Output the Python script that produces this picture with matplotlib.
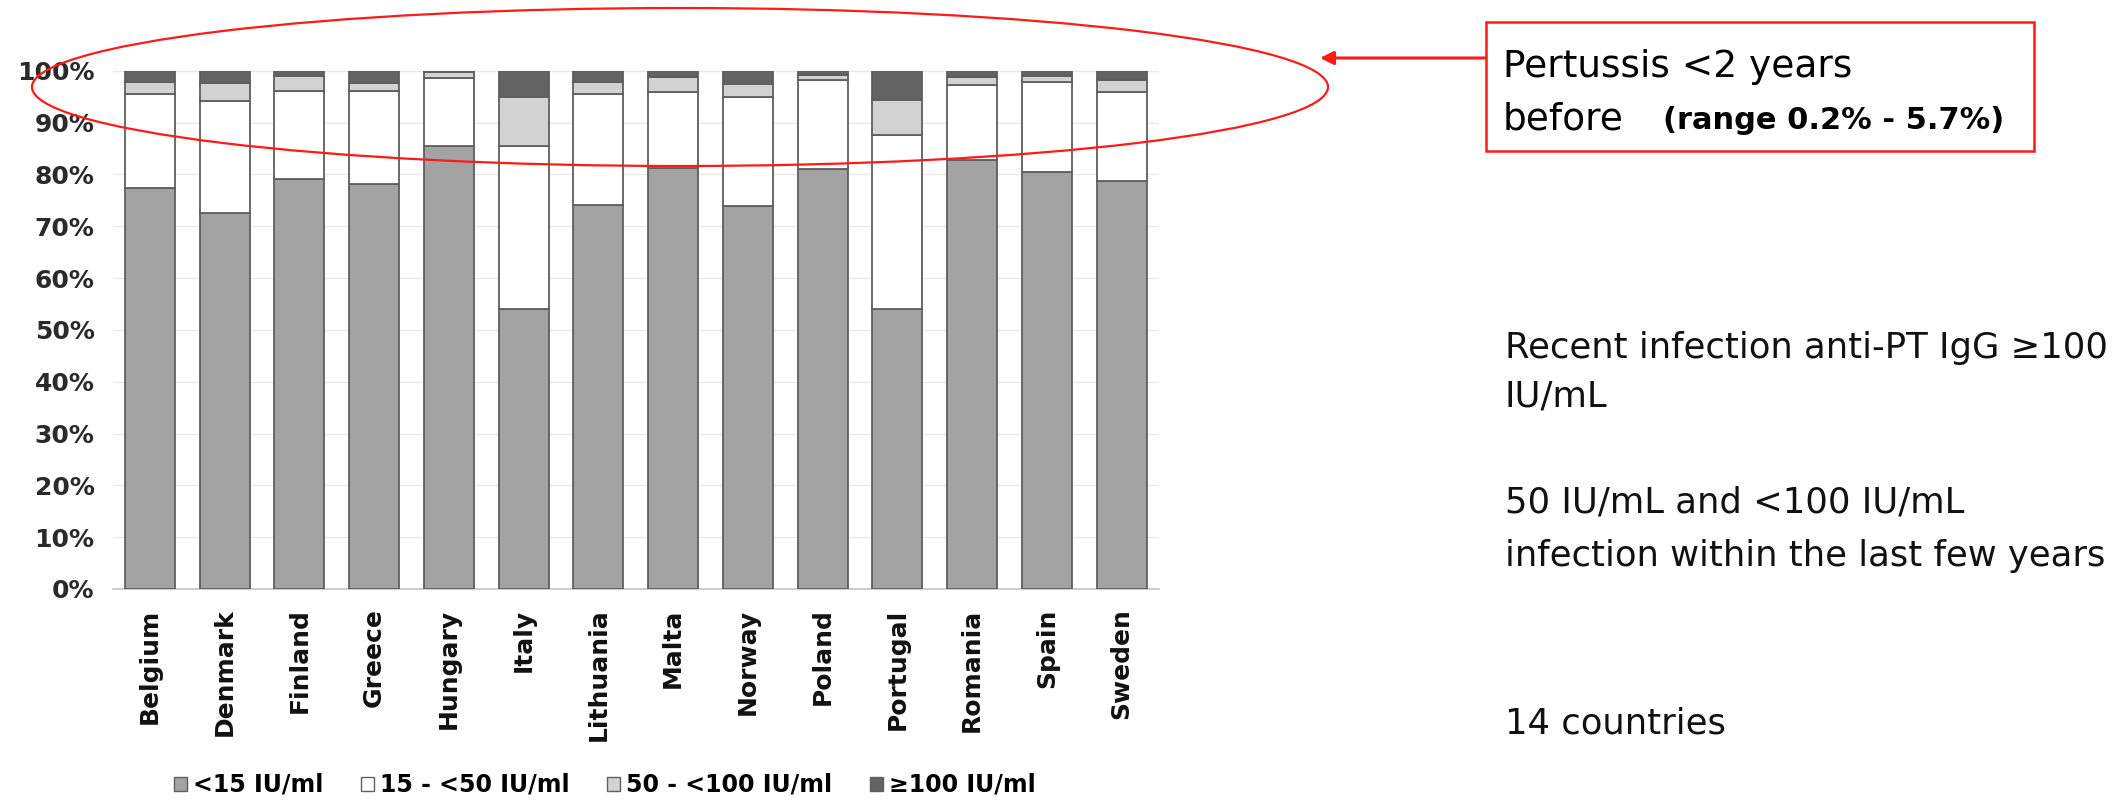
import numpy as np
import matplotlib
matplotlib.use("Agg")
import matplotlib.pyplot as plt
from matplotlib.patches import Ellipse, Rectangle, Patch, FancyArrowPatch

countries = ["Belgium", "Denmark", "Finland", "Greece", "Hungary", "Italy",
             "Lithuania", "Malta", "Norway", "Poland", "Portugal", "Romania",
             "Spain", "Sweden"]

# shares of anti-PT IgG levels per country (%)
lt15 = [77.4, 72.5, 79.2, 78.2, 85.4, 54.0, 74.0, 81.3, 73.8, 81.0, 54.0, 82.8, 80.4, 78.8]
r15_50 = [18.2, 21.6, 16.8, 17.8, 13.1, 31.5, 21.6, 14.6, 21.2, 17.3, 33.6, 14.5, 17.4, 17.1]
r50_100 = [2.3, 3.5, 3.0, 1.6, 1.2, 9.4, 2.2, 2.9, 2.4, 0.9, 6.7, 1.5, 1.2, 2.3]
ge100 = [2.1, 2.4, 1.0, 2.4, 0.3, 5.1, 2.2, 1.2, 2.6, 0.8, 5.7, 1.2, 1.0, 1.8]

series_labels = ["<15 IU/ml", "15 - <50 IU/ml", "50 - <100 IU/ml", "\u2265100 IU/ml"]
series_colors = ["#a3a3a3", "#ffffff", "#d2d2d2", "#636363"]
yticks = [0, 10, 20, 30, 40, 50, 60, 70, 80, 90, 100]

W, H = 2126, 801
fig = plt.figure(figsize=(W / 100, H / 100), dpi=100)


def fx(x):
    return x / W


def fy(y):
    return 1 - y / H


ax = fig.add_axes([fx(112.6), fy(589), (1159 - 112.6) / W, (589 - 70.7) / H])

x = np.arange(len(countries))
bottom = np.zeros(len(countries))
for vals, lab, col in zip([lt15, r15_50, r50_100, ge100], series_labels, series_colors):
    ax.bar(x, vals, width=0.67, bottom=bottom, color=col, edgecolor="#5e5e5e",
           linewidth=1.3, label=lab, zorder=3)
    bottom += np.array(vals)

ax.set_xlim(-0.5, len(countries) - 0.5)
ax.set_ylim(0, 100)
ax.set_yticks(yticks)
ax.set_yticklabels([f"{t}%" for t in yticks], fontsize=18, fontweight="bold", color="#2a2a2a")
ax.set_xticks(x)
ax.set_xticklabels(countries, rotation=90, fontsize=18, fontweight="bold", color="#111111")
ax.tick_params(length=0)
ax.tick_params(axis="y", pad=13)
ax.tick_params(axis="x", pad=14)
ax.grid(axis="y", color="#e8e8e8", linewidth=1, zorder=0)
for s in ["left", "right", "top"]:
    ax.spines[s].set_visible(False)
ax.spines["bottom"].set_color("#c4c4c4")
ax.spines["bottom"].set_linewidth(1.2)

handles = [Patch(facecolor=c, edgecolor="#5e5e5e", linewidth=1) for c in series_colors]
fig.legend(handles, series_labels, loc="center", bbox_to_anchor=(fx(605), fy(785)),
           ncol=4, frameon=False, handlelength=0.55, handleheight=0.55,
           handletextpad=0.25, columnspacing=1.6,
           prop={"size": 17, "weight": "bold"})

# red ellipse round the top of the bars
red = "#ff1a1a"
fig.add_artist(Ellipse((fx(680), fy(87)), 1296 / W, 158 / H, transform=fig.transFigure,
                       fill=False, edgecolor=red, linewidth=1.6))

# callout box
fig.add_artist(Rectangle((fx(1486), fy(151)), (2034 - 1486) / W, (151 - 22) / H,
                         transform=fig.transFigure, fill=False, edgecolor=red, linewidth=1.8))
fig.add_artist(FancyArrowPatch(
    (fx(1486), fy(58)), (fx(1320), fy(58)), transform=fig.transFigure,
    arrowstyle="-|>,head_length=8,head_width=4", color=red, linewidth=2.2,
    shrinkA=0, shrinkB=0))

fig.text(fx(1503), fy(77), "Pertussis <2 years", fontsize=27, va="baseline", color="#000000")
fig.text(fx(1503), fy(129), "before", fontsize=27, va="baseline", color="#000000")
fig.text(fx(1663), fy(129), "(range 0.2% - 5.7%)", fontsize=22, fontweight="bold",
         va="baseline", color="#000000")

# right-hand notes
notes = [("Recent infection anti-PT IgG \u2265100", 348),
         ("IU/mL", 396),
         ("50 IU/mL and <100 IU/mL", 502),
         ("infection within the last few years", 556),
         ("14 countries", 723)]
for txt, yy in notes:
    fig.text(fx(1505), fy(yy), txt, fontsize=25.5, va="center", color="#111111")

fig.savefig("out.png", dpi=100, facecolor="white")
